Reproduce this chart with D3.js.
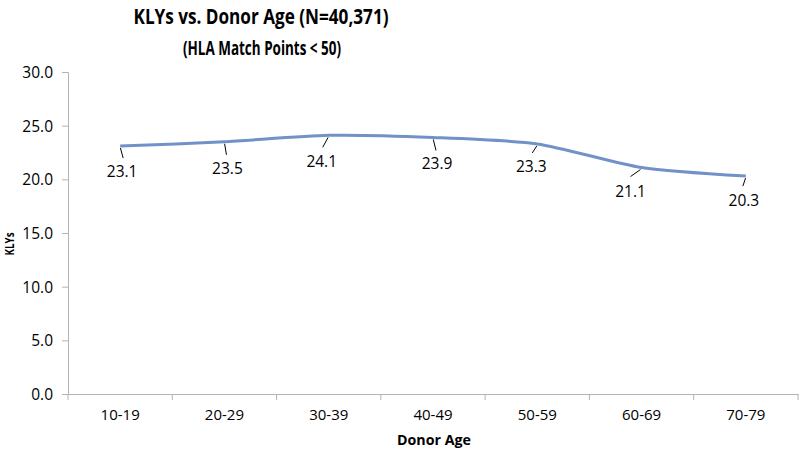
<!DOCTYPE html>
<html>
<head>
<meta charset="utf-8">
<script src="https://cdn.jsdelivr.net/npm/d3@7"></script>
<style>
  body { margin: 0; background: #fff; }
  text { font-family: "Open Sans", sans-serif; fill: #000; }
</style>
</head>
<body>
<svg id="chart" width="800" height="452"></svg>
<script>
// Data.
var categories = ['10-19', '20-29', '30-39', '40-49', '50-59', '60-69', '70-79'];
var klys = [23.1, 23.5, 24.1, 23.9, 23.3, 21.1, 20.3];
var yTicks = [0, 5, 10, 15, 20, 25, 30];

// Data label offsets from the point (label centre x, baseline y).
var labelOffsets = [[2, 31], [3, 32], [-7, 32], [4, 32], [-6, 28], [-11, 29], [-2, 30]];
// Leader line end relative to the point.
var leaderEnds = [[3, 12], [2, 13], [-6, 12], [3, 13], [-5, 9], [-11, 9], [-3, 10]];

// Layout constants.
var kLeft = 68;
var kRight = 798;
var kTop = 72;
var kBottom = 394;
var kAxisColor = '#b3b3b3';
var kLineColor = '#7191c9';
var kFontSize = '15.5px';

var svg = d3.select('#chart');

var x = d3.scaleBand()
  .domain(categories)
  .range([kLeft, kRight]);

var y = d3.scaleLinear()
  .domain([0, 30])
  .range([kBottom, kTop]);

// Y axis.
var yAxis = svg.append('g')
  .attr('transform', 'translate(' + kLeft + ',0)')
  .call(d3.axisLeft(y).tickValues(yTicks).tickSize(6).tickPadding(9)
    .tickFormat(d3.format('.1f')));
yAxis.select('.domain').attr('stroke', kAxisColor);
yAxis.selectAll('.tick line').attr('stroke', kAxisColor);
yAxis.selectAll('text')
  .style('font-size', kFontSize)
  .attr('dy', '0.35em');

// X axis.
var xAxis = svg.append('g')
  .attr('transform', 'translate(0,' + kBottom + ')')
  .call(d3.axisBottom(x).tickSize(0).tickPadding(15));
xAxis.select('.domain').attr('stroke', kAxisColor);
xAxis.selectAll('text').style('font-size', '15px');

// Tick marks between categories.
var boundaries = categories.map(function(c) { return x(c); }).concat([kRight]);
svg.append('g').selectAll('line')
  .data(boundaries)
  .enter().append('line')
  .attr('x1', function(d) { return d; })
  .attr('x2', function(d) { return d; })
  .attr('y1', kBottom)
  .attr('y2', kBottom + 6)
  .attr('stroke', kAxisColor);

// Line.
var line = d3.line()
  .x(function(d, i) { return x(categories[i]) + x.bandwidth() / 2; })
  .y(function(d) { return y(d); })
  .curve(d3.curveCardinal.tension(0.3));

svg.append('path')
  .datum(klys)
  .attr('fill', 'none')
  .attr('stroke', kLineColor)
  .attr('stroke-width', 3)
  .attr('d', line);

// Data labels with leader lines.
var labels = svg.append('g').selectAll('g')
  .data(klys)
  .enter().append('g')
  .attr('transform', function(d, i) {
    return 'translate(' + (x(categories[i]) + x.bandwidth() / 2) + ',' + y(d) + ')';
  });
labels.append('line')
  .attr('x1', function(d, i) { return leaderEnds[i][0] * 0.1; })
  .attr('y1', 2)
  .attr('x2', function(d, i) { return leaderEnds[i][0]; })
  .attr('y2', function(d, i) { return leaderEnds[i][1]; })
  .attr('stroke', '#000')
  .attr('stroke-width', 1);
labels.append('text')
  .attr('x', function(d, i) { return labelOffsets[i][0]; })
  .attr('y', function(d, i) { return labelOffsets[i][1]; })
  .attr('text-anchor', 'middle')
  .style('font-size', kFontSize)
  .text(function(d) { return d3.format('.1f')(d); });

// Titles.
svg.append('text')
  .attr('x', 261)
  .attr('y', 24)
  .attr('text-anchor', 'middle')
  .attr('textLength', 255)
  .attr('lengthAdjust', 'spacingAndGlyphs')
  .style('font-size', '22px')
  .style('font-weight', 'bold')
  .text('KLYs vs. Donor Age (N=40,371)');

svg.append('text')
  .attr('x', 262)
  .attr('y', 55)
  .attr('text-anchor', 'middle')
  .attr('textLength', 158)
  .attr('lengthAdjust', 'spacingAndGlyphs')
  .style('font-size', '20px')
  .style('font-weight', 'bold')
  .text('(HLA Match Points < 50)');

svg.append('text')
  .attr('x', 434)
  .attr('y', 445)
  .attr('text-anchor', 'middle')
  .attr('textLength', 74)
  .attr('lengthAdjust', 'spacingAndGlyphs')
  .style('font-size', '15px')
  .style('font-weight', 'bold')
  .text('Donor Age');

svg.append('text')
  .attr('transform', 'translate(14,244) rotate(-90)')
  .attr('text-anchor', 'middle')
  .attr('textLength', 23)
  .attr('lengthAdjust', 'spacingAndGlyphs')
  .style('font-size', '12px')
  .style('font-weight', 'bold')
  .text('KLYs');
</script>
</body>
</html>
